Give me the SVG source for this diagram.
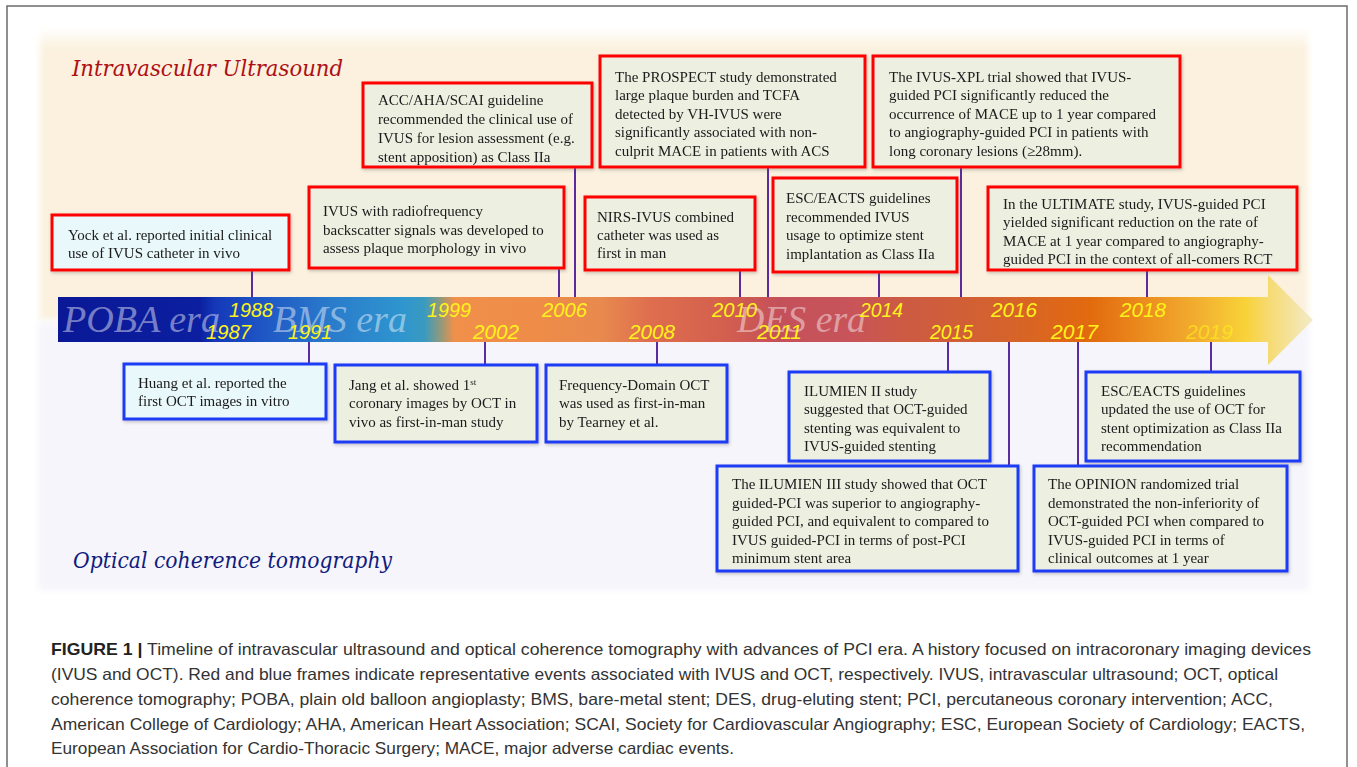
<svg xmlns="http://www.w3.org/2000/svg" width="1357" height="767" viewBox="0 0 1357 767">
  <defs>
    <linearGradient id="band" gradientUnits="userSpaceOnUse" x1="58" y1="0" x2="1313" y2="0">
      <stop offset="0" stop-color="#0A1896"/>
      <stop offset="0.113" stop-color="#0B1FA0"/>
      <stop offset="0.125" stop-color="#1438B8"/>
      <stop offset="0.161" stop-color="#1E55C4"/>
      <stop offset="0.217" stop-color="#2A7BCB"/>
      <stop offset="0.273" stop-color="#2E95CF"/>
      <stop offset="0.292" stop-color="#3A9AC0"/>
      <stop offset="0.304" stop-color="#8A9A80"/>
      <stop offset="0.316" stop-color="#F0904A"/>
      <stop offset="0.384" stop-color="#EE8C48"/>
      <stop offset="0.432" stop-color="#E88A4E"/>
      <stop offset="0.472" stop-color="#DE6E4E"/>
      <stop offset="0.528" stop-color="#D4604E"/>
      <stop offset="0.575" stop-color="#C4505A"/>
      <stop offset="0.631" stop-color="#C8545A"/>
      <stop offset="0.671" stop-color="#CC5A44"/>
      <stop offset="0.750" stop-color="#D4622E"/>
      <stop offset="0.822" stop-color="#E26A0E"/>
      <stop offset="0.870" stop-color="#EC9020"/>
      <stop offset="0.910" stop-color="#F2B030"/>
      <stop offset="0.946" stop-color="#F8D238"/>
      <stop offset="0.964" stop-color="#F6DA70"/>
      <stop offset="1" stop-color="#F3EBC8"/>
    </linearGradient>
    <linearGradient id="topfade" x1="0" y1="0" x2="0" y2="1">
      <stop offset="0" stop-color="#FBF1DE" stop-opacity="0"/>
      <stop offset="0.07" stop-color="#FBF1DE" stop-opacity="1"/>
      <stop offset="1" stop-color="#FBF1DE" stop-opacity="1"/>
    </linearGradient>
    <filter id="sh" x="-10%" y="-10%" width="120%" height="130%">
      <feDropShadow dx="1" dy="1.5" stdDeviation="1.5" flood-color="#555" flood-opacity="0.35"/>
    </filter>
    <filter id="soft" x="-5%" y="-5%" width="110%" height="110%">
      <feGaussianBlur stdDeviation="3"/>
    </filter>
  </defs>
  <style>
    .ivus { fill: #EDEFE1; stroke: #FF0000; stroke-width: 3; }
    .oct { fill: #EDEFE1; stroke: #1E3CF5; stroke-width: 3; }
    .light { fill: #E9F8FA; }
    .bt { font-family: "Liberation Serif", "Times New Roman", serif; font-size: 15px; fill: #1a1a1a; }
    .yr { font-family: "Liberation Sans", Arial, sans-serif; font-style: italic; font-size: 21px; fill: #FFF21A; }
    .era { font-family: "Liberation Serif", "Times New Roman", serif; font-style: italic; font-size: 38px; fill: #FFFFFF; fill-opacity: 0.45; }
    .ttl { font-family: "DejaVu Serif", "Liberation Serif", serif; font-style: italic; font-size: 22px; }
    .conn line { stroke: #5A2CA0; stroke-width: 2; }
    .cap { font-family: "Liberation Sans Narrow", "Liberation Sans", Arial, sans-serif; font-size: 16.5px; fill: #333333; }
  </style>

  <!-- outer frame -->
  <rect x="7" y="6" width="1340" height="790" fill="#FFFFFF" stroke="#6B6B6B" stroke-width="1.5"/>

  <!-- backgrounds -->
  <g id="backgrounds">
    <rect x="40" y="28" width="1268" height="292" fill="url(#topfade)" filter="url(#soft)"/>
    <rect x="38" y="322" width="1271" height="268" fill="#F6F5FB" filter="url(#soft)"/>
  </g>

  <!-- timeline band -->
  <g id="timeline">
    <rect x="58" y="297" width="1211" height="45" fill="url(#band)"/>
    <polygon points="1268,275 1313,320 1268,365" fill="url(#band)"/>
    <text class="era" x="63" y="332" textLength="157" lengthAdjust="spacingAndGlyphs">POBA era</text>
    <text class="era" x="273" y="332" textLength="134" lengthAdjust="spacingAndGlyphs">BMS era</text>
    <text class="era" x="737" y="332" textLength="129" lengthAdjust="spacingAndGlyphs">DES era</text>
    <text class="yr" x="229" y="317" textLength="44" lengthAdjust="spacingAndGlyphs">1988</text>
    <text class="yr" x="427" y="317" textLength="44" lengthAdjust="spacingAndGlyphs">1999</text>
    <text class="yr" x="542" y="317" textLength="45" lengthAdjust="spacingAndGlyphs">2006</text>
    <text class="yr" x="712" y="317" textLength="45" lengthAdjust="spacingAndGlyphs">2010</text>
    <text class="yr" x="860" y="317" textLength="43" lengthAdjust="spacingAndGlyphs">2014</text>
    <text class="yr" x="991" y="317" textLength="46" lengthAdjust="spacingAndGlyphs">2016</text>
    <text class="yr" x="1120" y="317" textLength="46" lengthAdjust="spacingAndGlyphs">2018</text>
    <text class="yr" x="206" y="339" textLength="45" lengthAdjust="spacingAndGlyphs">1987</text>
    <text class="yr" x="288" y="339" textLength="44" lengthAdjust="spacingAndGlyphs">1991</text>
    <text class="yr" x="473" y="339" textLength="46" lengthAdjust="spacingAndGlyphs">2002</text>
    <text class="yr" x="629" y="339" textLength="46" lengthAdjust="spacingAndGlyphs">2008</text>
    <text class="yr" x="757" y="339" textLength="45" lengthAdjust="spacingAndGlyphs">2011</text>
    <text class="yr" x="930" y="339" textLength="43" lengthAdjust="spacingAndGlyphs">2015</text>
    <text class="yr" x="1051" y="339" textLength="47" lengthAdjust="spacingAndGlyphs">2017</text>
    <text class="yr" x="1186" y="339" textLength="47" lengthAdjust="spacingAndGlyphs" fill-opacity="0.6">2019</text>
  </g>

  <!-- section titles -->
  <text id="title-ivus" class="ttl" x="72" y="76" fill="#AE0F14" textLength="271" lengthAdjust="spacingAndGlyphs">Intravascular Ultrasound</text>
  <text id="title-oct" class="ttl" x="73" y="568" fill="#101C7C" textLength="319" lengthAdjust="spacingAndGlyphs">Optical coherence tomography</text>

  <!-- connectors -->
  <g id="connectors" class="conn">
    <line x1="252" y1="270" x2="252" y2="297"/>
    <line x1="559" y1="268" x2="559" y2="297"/>
    <line x1="575" y1="167" x2="575" y2="297"/>
    <line x1="740" y1="270" x2="740" y2="297"/>
    <line x1="768" y1="167" x2="768" y2="297"/>
    <line x1="879" y1="272" x2="879" y2="297"/>
    <line x1="961" y1="167" x2="961" y2="297"/>
    <line x1="1147" y1="270" x2="1147" y2="297"/>
    <line x1="309" y1="342" x2="309" y2="364"/>
    <line x1="485" y1="342" x2="485" y2="365"/>
    <line x1="657" y1="342" x2="657" y2="365"/>
    <line x1="948" y1="342" x2="948" y2="372"/>
    <line x1="1009" y1="342" x2="1009" y2="466"/>
    <line x1="1078" y1="342" x2="1078" y2="466"/>
    <line x1="1211" y1="342" x2="1211" y2="372"/>
  </g>

  <!-- IVUS (red) events -->
  <g id="n-yock" filter="url(#sh)">
    <rect class="ivus light" x="52" y="215" width="237" height="55"/>
    <text class="bt" x="68" y="240">Yock et al. reported initial clinical</text>
    <text class="bt" x="68" y="258">use of IVUS catheter in vivo</text>
  </g>
  <g id="n-rf" filter="url(#sh)">
    <rect class="ivus" x="309" y="187" width="255" height="81"/>
    <text class="bt" x="323" y="216">IVUS with radiofrequency</text>
    <text class="bt" x="323" y="235">backscatter signals was developed to</text>
    <text class="bt" x="323" y="253">assess plaque morphology in vivo</text>
  </g>
  <g id="n-acc" filter="url(#sh)">
    <rect class="ivus" x="363" y="83" width="229" height="84"/>
    <text class="bt" x="378" y="105">ACC/AHA/SCAI guideline</text>
    <text class="bt" x="378" y="124">recommended the clinical use of</text>
    <text class="bt" x="378" y="143">IVUS for lesion assessment (e.g.</text>
    <text class="bt" x="378" y="162">stent apposition) as Class IIa</text>
  </g>
  <g id="n-prospect" filter="url(#sh)">
    <rect class="ivus" x="600" y="56" width="265" height="111"/>
    <text class="bt" x="615" y="82">The PROSPECT study demonstrated</text>
    <text class="bt" x="615" y="100">large plaque burden and TCFA</text>
    <text class="bt" x="615" y="119">detected by VH-IVUS were</text>
    <text class="bt" x="615" y="137">significantly associated with non-</text>
    <text class="bt" x="615" y="156">culprit MACE in patients with ACS</text>
  </g>
  <g id="n-nirs" filter="url(#sh)">
    <rect class="ivus" x="585" y="197" width="170" height="73"/>
    <text class="bt" x="597" y="222">NIRS-IVUS combined</text>
    <text class="bt" x="597" y="240">catheter was used as</text>
    <text class="bt" x="597" y="258">first in man</text>
  </g>
  <g id="n-esc2014" filter="url(#sh)">
    <rect class="ivus" x="773" y="178" width="184" height="94"/>
    <text class="bt" x="786" y="203">ESC/EACTS guidelines</text>
    <text class="bt" x="786" y="222">recommended IVUS</text>
    <text class="bt" x="786" y="240">usage to optimize stent</text>
    <text class="bt" x="786" y="259">implantation as Class IIa</text>
  </g>
  <g id="n-xpl" filter="url(#sh)">
    <rect class="ivus" x="873" y="56" width="307" height="111"/>
    <text class="bt" x="889" y="82">The IVUS-XPL trial showed that IVUS-</text>
    <text class="bt" x="889" y="100">guided PCI significantly reduced the</text>
    <text class="bt" x="889" y="119">occurrence of MACE up to 1 year compared</text>
    <text class="bt" x="889" y="137">to angiography-guided PCI in patients with</text>
    <text class="bt" x="889" y="156">long coronary lesions (≥28mm).</text>
  </g>
  <g id="n-ultimate" filter="url(#sh)">
    <rect class="ivus" x="988" y="187" width="309" height="83"/>
    <text class="bt" x="1003" y="209">In the ULTIMATE study, IVUS-guided PCI</text>
    <text class="bt" x="1003" y="227">yielded significant reduction on the rate of</text>
    <text class="bt" x="1003" y="246">MACE at 1 year compared to angiography-</text>
    <text class="bt" x="1003" y="264">guided PCI in the context of all-comers RCT</text>
  </g>

  <!-- OCT (blue) events -->
  <g id="n-huang" filter="url(#sh)">
    <rect class="oct light" x="124" y="364" width="202" height="55"/>
    <text class="bt" x="138" y="388">Huang et al. reported the</text>
    <text class="bt" x="138" y="406">first OCT images in vitro</text>
  </g>
  <g id="n-jang" filter="url(#sh)">
    <rect class="oct" x="335" y="365" width="202" height="77"/>
    <text class="bt" x="349" y="390">Jang et al. showed 1<tspan font-size="9" dy="-5">st</tspan></text>
    <text class="bt" x="349" y="408">coronary images by OCT in</text>
    <text class="bt" x="349" y="427">vivo as first-in-man study</text>
  </g>
  <g id="n-fdoct" filter="url(#sh)">
    <rect class="oct" x="546" y="365" width="181" height="77"/>
    <text class="bt" x="559" y="390">Frequency-Domain OCT</text>
    <text class="bt" x="559" y="408">was used as first-in-man</text>
    <text class="bt" x="559" y="427">by Tearney et al.</text>
  </g>
  <g id="n-ilumien2" filter="url(#sh)">
    <rect class="oct" x="789" y="372" width="201" height="89"/>
    <text class="bt" x="804" y="396">ILUMIEN II study</text>
    <text class="bt" x="804" y="414">suggested that OCT-guided</text>
    <text class="bt" x="804" y="433">stenting was equivalent to</text>
    <text class="bt" x="804" y="451">IVUS-guided stenting</text>
  </g>
  <g id="n-ilumien3" filter="url(#sh)">
    <rect class="oct" x="717" y="466" width="301" height="105"/>
    <text class="bt" x="732" y="489">The ILUMIEN III study showed that OCT</text>
    <text class="bt" x="732" y="508">guided-PCI was superior to angiography-</text>
    <text class="bt" x="732" y="526">guided PCI, and equivalent to compared to</text>
    <text class="bt" x="732" y="545">IVUS guided-PCI in terms of post-PCI</text>
    <text class="bt" x="732" y="563">minimum stent area</text>
  </g>
  <g id="n-esc2019" filter="url(#sh)">
    <rect class="oct" x="1086" y="372" width="214" height="89"/>
    <text class="bt" x="1101" y="396">ESC/EACTS guidelines</text>
    <text class="bt" x="1101" y="414">updated the use of OCT for</text>
    <text class="bt" x="1101" y="433">stent optimization as Class IIa</text>
    <text class="bt" x="1101" y="451">recommendation</text>
  </g>
  <g id="n-opinion" filter="url(#sh)">
    <rect class="oct" x="1034" y="466" width="253" height="105"/>
    <text class="bt" x="1048" y="489">The OPINION randomized trial</text>
    <text class="bt" x="1048" y="508">demonstrated the non-inferiority of</text>
    <text class="bt" x="1048" y="526">OCT-guided PCI when compared to</text>
    <text class="bt" x="1048" y="545">IVUS-guided PCI in terms of</text>
    <text class="bt" x="1048" y="563">clinical outcomes at 1 year</text>
  </g>

  <!-- caption -->
  <g id="caption" class="cap">
    <text x="51" y="655" textLength="1260" lengthAdjust="spacingAndGlyphs"><tspan font-weight="bold" fill="#222">FIGURE 1</tspan> <tspan font-weight="bold" fill="#222">|</tspan> Timeline of intravascular ultrasound and optical coherence tomography with advances of PCI era. A history focused on intracoronary imaging devices</text>
    <text x="51" y="680" textLength="1227" lengthAdjust="spacingAndGlyphs">(IVUS and OCT). Red and blue frames indicate representative events associated with IVUS and OCT, respectively. IVUS, intravascular ultrasound; OCT, optical</text>
    <text x="51" y="705" textLength="1222" lengthAdjust="spacingAndGlyphs">coherence tomography; POBA, plain old balloon angioplasty; BMS, bare-metal stent; DES, drug-eluting stent; PCI, percutaneous coronary intervention; ACC,</text>
    <text x="51" y="730" textLength="1254" lengthAdjust="spacingAndGlyphs">American College of Cardiology; AHA, American Heart Association; SCAI, Society for Cardiovascular Angiography; ESC, European Society of Cardiology; EACTS,</text>
    <text x="51" y="754" textLength="683" lengthAdjust="spacingAndGlyphs">European Association for Cardio-Thoracic Surgery; MACE, major adverse cardiac events.</text>
  </g>
</svg>
